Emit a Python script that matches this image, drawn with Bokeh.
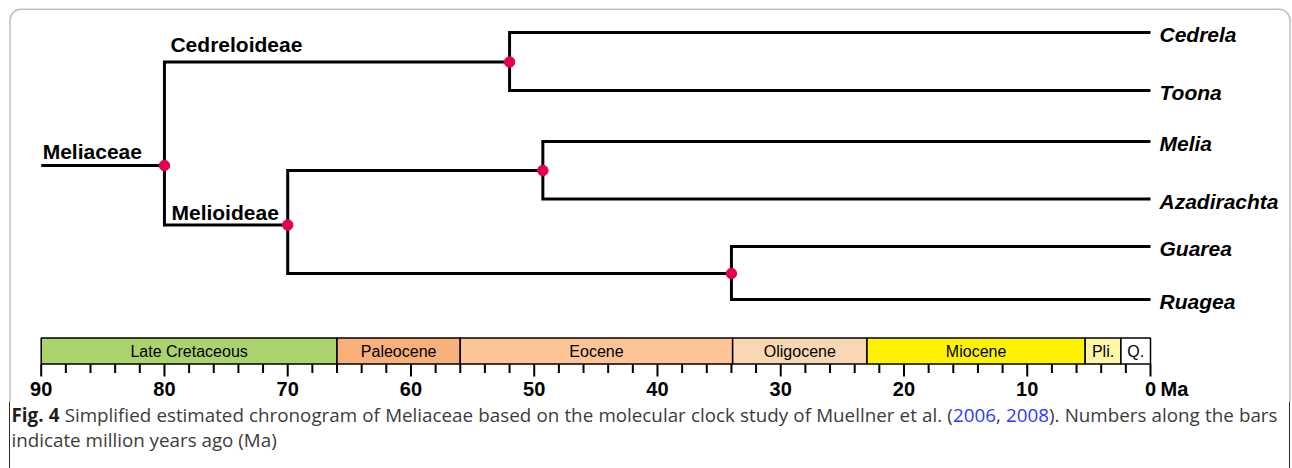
from bokeh.plotting import figure
from bokeh.models import Range1d, ColumnDataSource, BoxAnnotation, Div
from bokeh.layouts import column
from bokeh.core.properties import value
from bokeh.embed import file_html
from bokeh.resources import INLINE

# ---------------- data ----------------
tips = ["Cedrela", "Toona", "Melia", "Azadirachta", "Guarea", "Ruagea"]
tip_age = [0, 0, 0, 0, 0, 0]

node_names = ["Meliaceae", "Cedreloideae", "Melioideae", "Melia+Azadirachta", "Guarea+Ruagea"]
node_age = [80, 52, 70, 49.3, 34]
node_children = [
    ["Cedreloideae", "Melioideae"],
    ["Cedrela", "Toona"],
    ["Melia+Azadirachta", "Guarea+Ruagea"],
    ["Melia", "Azadirachta"],
    ["Guarea", "Ruagea"],
]
root_stem_age = 90
clade_labels = ["Meliaceae", "Cedreloideae", "Melioideae"]

periods = ["Late Cretaceous", "Paleocene", "Eocene", "Oligocene", "Miocene", "Pli.", "Q."]
period_start = [90, 66, 56, 33.9, 23, 5.3, 2.4]
period_end = [66, 56, 33.9, 23, 5.3, 2.4, 0]
period_colors = ["#AAD36E", "#F8B07A", "#FDC596", "#FAD7B3", "#FFF200", "#FFF7A8", "#FFFFFF"]

major_ticks = [90, 80, 70, 60, 50, 40, 30, 20, 10, 0]
tick_labels = ["90", "80", "70", "60", "50", "40", "30", "20", "10", "0"]
minor_ticks = [88, 86, 84, 82, 78, 76, 74, 72, 68, 66, 64, 62, 58, 56, 54, 52, 48, 46, 44, 42,
               38, 36, 34, 32, 28, 26, 24, 22, 18, 16, 14, 12, 8, 6, 4, 2]
unit_label = "Ma"

caption_bold = "Fig. 4"
caption_pre = ("Simplified estimated chronogram of Meliaceae based on the molecular clock "
               "study of Muellner et al. (")
caption_refs = ["2006", "2008"]
caption_post = "). Numbers along the bars"
caption_line2 = "indicate million years ago (Ma)"

# ---------------- layout (vertical data units = page pixels) ----------------
TIP_Y = [32, 90, 141, 198.5, 246, 299]
NODE_Y = [165, 61.5, 224.5, 170, 273]

W, H = 1292, 402
PX90, PX0 = 40.7, 1150.0          # page x of 90 Ma and 0 Ma
S = (PX0 - PX90) / 90.0


def ma_at(px):
    return 90 - (px - PX90) / S


age = dict(zip(tips, tip_age))
age.update(dict(zip(node_names, node_age)))
ypos = dict(zip(tips, TIP_Y))
ypos.update(dict(zip(node_names, NODE_Y)))

p = figure(width=W, height=H, output_backend="svg", toolbar_location=None,
           x_range=Range1d(ma_at(0), ma_at(W)), y_range=Range1d(H, 0),
           x_axis_location=None, y_axis_location=None, min_border=0,
           outline_line_color=None, background_fill_color="white", border_fill_color="white")
p.grid.visible = False

# border of the figure box (continues in the caption below)
p.add_layout(BoxAnnotation(left=ma_at(9.5), right=ma_at(1289.5), top=8.75, bottom=800,
                           border_radius=11, fill_alpha=0, line_color="#2a2a2a", line_width=1.5))

# tree branches
xs, ys = [], []
for n, ch in zip(node_names, node_children):
    c1, c2 = ch
    xs.append([age[c1], age[n], age[n], age[c2]])
    ys.append([ypos[c1], ypos[c1], ypos[c2], ypos[c2]])
xs.append([root_stem_age, age["Meliaceae"]])
ys.append([ypos["Meliaceae"], ypos["Meliaceae"]])
p.multi_line(xs=xs, ys=ys, line_color="black", line_width=3, line_join="miter")

# node dots
p.scatter(x=node_age, y=NODE_Y, size=10.5, fill_color="#E5004F", line_color="#E5004F")

# tip labels
p.text(x=tip_age, y=[v + 2 for v in TIP_Y], text=tips, x_offset=9, text_baseline="middle",
       text_font=value("Liberation Sans"), text_font_style="bold italic",
       text_font_size="21px", text_color="black")

# clade labels
lab_x = [root_stem_age, age["Meliaceae"], age["Meliaceae"]]
lab_y = [ypos["Meliaceae"] - 14, ypos["Cedreloideae"] - 17.3, ypos["Melioideae"] - 13]
p.text(x=lab_x, y=lab_y, text=clade_labels, x_offset=[1.5, 6, 7], text_baseline="middle",
       text_font=value("Liberation Sans"), text_font_style="bold", text_font_size="21px",
       text_color="black")

# time scale bar
BAR_T, BAR_B = 337.5, 363.5
src = ColumnDataSource(dict(l=period_start, r=period_end, c=period_colors, n=periods,
                            m=[(a + b) / 2 for a, b in zip(period_start, period_end)]))
p.quad(left="l", right="r", top=BAR_T, bottom=BAR_B, fill_color="c", line_color="black",
       line_width=1.5, source=src)
p.text(x="m", y=(BAR_T + BAR_B) / 2 + 0.5, text="n", text_align="center", text_baseline="middle",
       text_font=value("Liberation Sans"), text_font_size="16px", text_color="black", source=src)

# ticks
p.segment(x0=minor_ticks, x1=minor_ticks, y0=BAR_B, y1=BAR_B + 9, line_color="black", line_width=2)
p.segment(x0=major_ticks, x1=major_ticks, y0=BAR_B, y1=BAR_B + 12.5, line_color="black", line_width=2)
p.text(x=major_ticks, y=388.5, text=tick_labels, text_align="center", text_baseline="middle",
       text_font=value("Liberation Sans"), text_font_style="bold", text_font_size="20px",
       text_color="black")
p.text(x=[0], y=[388.5], text=[unit_label], x_offset=10, text_align="left", text_baseline="middle",
       text_font=value("Liberation Sans"), text_font_style="bold", text_font_size="20px",
       text_color="black")

link = '<span style="color:#2b3bff;">{}</span>'
caption_html = (
    '<div style="box-sizing:border-box;margin:0 0 0 8.75px;width:1281.5px;height:66px;'
    'border-left:1.5px solid #2a2a2a;border-right:1.5px solid #2a2a2a;padding:0 0 0 1.75px;'
    'font-family:\'Open Sans\',sans-serif;font-size:18.8px;line-height:25px;color:#3b3b3b;">'
    '<div style="width:1266px;padding-top:1px;text-align:justify;text-align-last:justify;">'
    f'<b style="color:#1e1e1e;">{caption_bold}</b> {caption_pre}'
    f'{link.format(caption_refs[0])}, {link.format(caption_refs[1])}{caption_post}</div>'
    f'<div>{caption_line2}</div></div>'
)
div = Div(text=caption_html, width=W, height=468 - H, margin=0)

layout = column(p, div, spacing=0)
open("out.html", "w").write(file_html(layout, INLINE))
